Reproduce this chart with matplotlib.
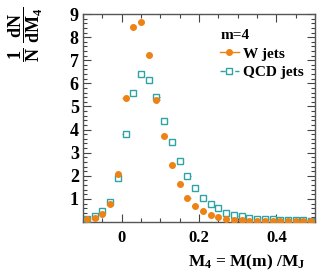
import numpy as np
import matplotlib
matplotlib.use("Agg")
import matplotlib.pyplot as plt
from matplotlib.lines import Line2D
from matplotlib.ticker import MultipleLocator

plt.rcParams['font.family'] = 'Liberation Serif'
plt.rcParams['font.weight'] = 'bold'
plt.rcParams['mathtext.fontset'] = 'custom'
plt.rcParams['mathtext.rm'] = 'Liberation Serif:bold'
plt.rcParams['mathtext.it'] = 'Liberation Serif:bold'
plt.rcParams['mathtext.bf'] = 'Liberation Serif:bold'

# bin centres (bin width 0.02)
m4 = [-0.09, -0.07, -0.05, -0.03, -0.01, 0.01, 0.03, 0.05, 0.07, 0.09,
      0.11, 0.13, 0.15, 0.17, 0.19, 0.21, 0.23, 0.25, 0.27, 0.29,
      0.31, 0.33, 0.35, 0.37, 0.39, 0.41, 0.43, 0.45, 0.47, 0.49]
w_jets = [0.13, 0.17, 0.35, 0.79, 2.06, 5.35, 8.45, 8.67, 7.23, 5.28,
          3.72, 2.47, 1.64, 1.05, 0.71, 0.48, 0.32, 0.21, 0.13, 0.09,
          0.07, 0.06, 0.05, 0.05, 0.04, 0.04, 0.04, 0.04, 0.04, 0.04]
qcd_jets = [0.13, 0.26, 0.46, 0.88, 1.92, 3.80, 5.60, 6.40, 6.15, 5.40,
            4.39, 3.48, 2.64, 1.99, 1.46, 1.05, 0.77, 0.59, 0.40, 0.30,
            0.25, 0.19, 0.15, 0.13, 0.12, 0.10, 0.09, 0.08, 0.07, 0.06]

orange = '#ee8214'
teal = '#2ea3a6'

fig = plt.figure(figsize=(3.32, 2.78), dpi=100)
ax = fig.add_axes([0.25, 0.2014, 0.699, 0.7482])

ax.errorbar(m4, qcd_jets, xerr=0.008, fmt='s', ms=4.2, mfc='white', mec=teal,
            mew=1.0, ecolor=teal, elinewidth=0.8, zorder=3)
ax.errorbar(m4, w_jets, xerr=0.008, fmt='o', ms=4.0, mfc=orange, mec=orange,
            ecolor=orange, elinewidth=0.8, zorder=4)

ax.set_xlim(-0.1, 0.5)
ax.set_ylim(0, 9)
ax.xaxis.set_major_locator(MultipleLocator(0.2))
ax.xaxis.set_minor_locator(MultipleLocator(0.05))
ax.yaxis.set_major_locator(MultipleLocator(1))
ax.yaxis.set_minor_locator(MultipleLocator(0.2))
ax.set_yticks([1, 2, 3, 4, 5, 6, 7, 8, 9])
ax.set_xticks([0, 0.2, 0.4])
ax.set_xticklabels(['0', '0.2', '0.4'])
ax.tick_params(which='both', direction='in', top=True, right=True,
               width=0.8, color='#444444')
ax.tick_params(axis='y', labelsize=13, pad=3)
ax.tick_params(axis='x', labelsize=12, pad=6)
ax.tick_params(which='major', length=6)
ax.tick_params(which='minor', length=3)
for s in ax.spines.values():
    s.set_color('#555555')
    s.set_linewidth(1.0)

handles = [Line2D([], [], color=orange, ls='-', lw=1, marker='o', ms=4, mfc=orange, mec=orange),
           Line2D([], [], color=teal, ls='--', lw=1, marker='s', ms=4, mfc='white', mec=teal)]
leg = ax.legend(handles, ['W jets', 'QCD jets'], title='m=4', loc='upper left',
                bbox_to_anchor=(0.565, 0.955), frameon=False, fontsize=11,
                title_fontsize=11, handlelength=1.2, handletextpad=0.3,
                labelspacing=0.3, borderaxespad=0)
leg._legend_box.align = 'left'

fig.text(0.02, 0.975, r'$\dfrac{1}{N}\;\dfrac{dN}{dM_{4}}$', rotation=90,
         ha='left', va='top', fontsize=13)
fig.text(0.92, 0.04, r'$M_{4}$ = M(m) /$M_{J}$', ha='right', va='baseline',
         fontsize=12.5)

fig.savefig('out.png', dpi=100)
